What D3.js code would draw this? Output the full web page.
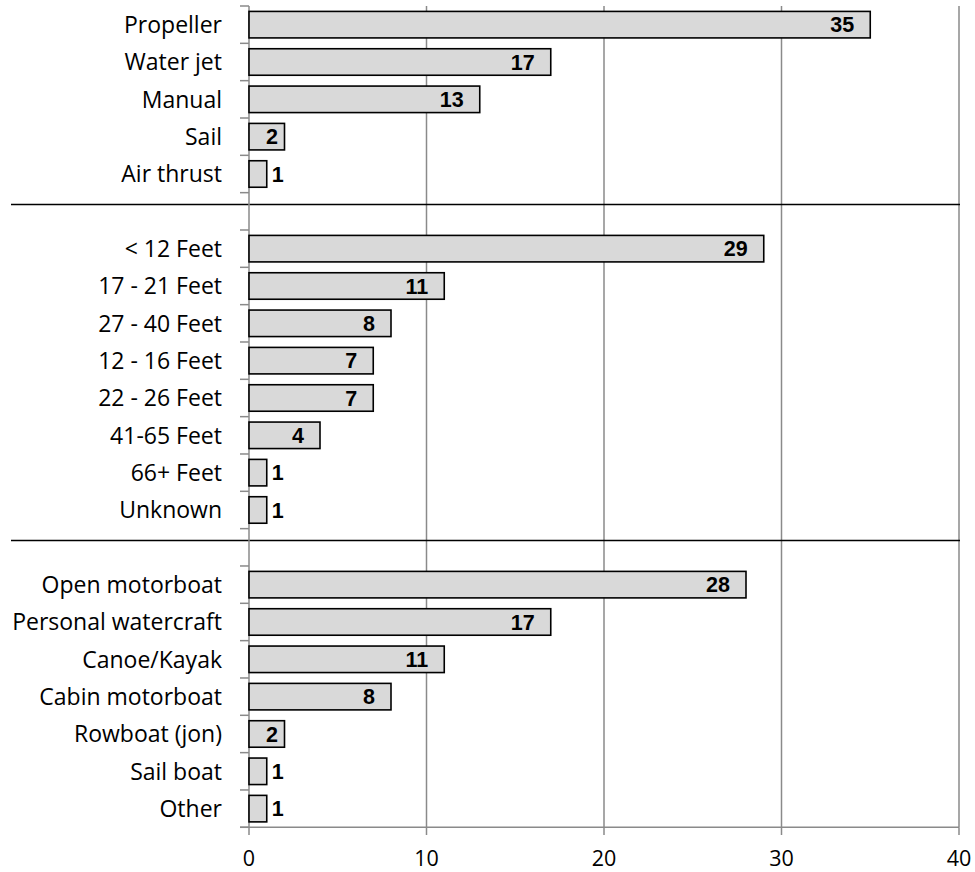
<!DOCTYPE html>
<html>
<head>
<meta charset="utf-8">
<script src="https://cdn.jsdelivr.net/npm/d3@7"></script>
<style>
  html, body { margin: 0; padding: 0; background: #fff; }
  svg { display: block; }
</style>
</head>
<body>
<script>
// ---- Data ----
const propulsionTypes = ["Propeller", "Water jet", "Manual", "Sail", "Air thrust"];
const propulsionCounts = [35, 17, 13, 2, 1];

const boatLengths = ["< 12 Feet", "17 - 21 Feet", "27 - 40 Feet", "12 - 16 Feet", "22 - 26 Feet", "41-65 Feet", "66+ Feet", "Unknown"];
const lengthCounts = [29, 11, 8, 7, 7, 4, 1, 1];

const boatTypes = ["Open motorboat", "Personal watercraft", "Canoe/Kayak", "Cabin motorboat", "Rowboat (jon)", "Sail boat", "Other"];
const boatTypeCounts = [28, 17, 11, 8, 2, 1, 1];

const xTicks = [0, 10, 20, 30, 40];

// ---- Build rows (with blank separator rows between groups) ----
const groups = [
  { names: propulsionTypes, values: propulsionCounts },
  { names: boatLengths, values: lengthCounts },
  { names: boatTypes, values: boatTypeCounts }
];
const rows = [];
const separators = [];
groups.forEach((g, gi) => {
  if (gi > 0) {
    const id = "sep" + gi;
    rows.push({ id, label: "", value: null });
    separators.push(id);
  }
  g.names.forEach((n, i) => rows.push({ id: "g" + gi + "_" + i, label: n, value: g.values[i] }));
});

// ---- Layout ----
const W = 975, H = 872;
const svg = d3.select("body").append("svg").attr("width", W).attr("height", H);

const x = d3.scaleLinear().domain([0, 40]).range([249, 959]);
const ySlot = d3.scaleBand().domain(rows.map(r => r.id)).range([6, 827.3]).padding(0);
const y = d3.scaleBand().domain(rows.map(r => r.id)).range([6, 827.3]).paddingInner(0.29).paddingOuter(0.145);

const grey = "#8a8a8a";

// gridlines
svg.append("g").selectAll("line").data(xTicks.filter(t => t > 0)).join("line")
  .attr("x1", d => x(d)).attr("x2", d => x(d))
  .attr("y1", 6).attr("y2", 827.3)
  .attr("stroke", grey).attr("stroke-width", 1.5);

// separators
svg.append("g").selectAll("line").data(separators).join("line")
  .attr("x1", 11).attr("x2", 960)
  .attr("y1", d => ySlot(d) + ySlot.step() * 0.32)
  .attr("y2", d => ySlot(d) + ySlot.step() * 0.32)
  .attr("stroke", "#000").attr("stroke-width", 1.5);

// left axis line & ticks
svg.append("line").attr("x1", x(0)).attr("x2", x(0)).attr("y1", 6).attr("y2", 827.3)
  .attr("stroke", grey).attr("stroke-width", 1.5);
const tickYs = rows.map(r => ySlot(r.id)).concat([ySlot(rows[rows.length - 1].id) + ySlot.step()]);
svg.append("g").selectAll("line").data(tickYs).join("line")
  .attr("x1", x(0) - 9).attr("x2", x(0))
  .attr("y1", d => d).attr("y2", d => d)
  .attr("stroke", grey).attr("stroke-width", 1.5);

// bars
const dataRows = rows.filter(r => r.value !== null);
svg.append("g").selectAll("rect").data(dataRows).join("rect")
  .attr("x", x(0))
  .attr("y", d => y(d.id))
  .attr("width", d => x(d.value) - x(0))
  .attr("height", y.bandwidth())
  .attr("fill", "#d9d9d9")
  .attr("stroke", "#000").attr("stroke-width", 1.6);

// category labels
svg.append("g").selectAll("text").data(dataRows).join("text")
  .attr("x", 222)
  .attr("y", d => y(d.id) + y.bandwidth() / 2)
  .attr("dy", "0.36em")
  .attr("text-anchor", "end")
  .attr("font-family", "'Open Sans', sans-serif")
  .attr("font-size", 23)
  .attr("fill", "#000")
  .text(d => d.label);

// value labels
svg.append("g").selectAll("text").data(dataRows).join("text")
  .each(function (d) {
    const w = x(d.value) - x(0);
    const sel = d3.select(this);
    if (w > 50) {
      sel.attr("x", x(d.value) - 16).attr("text-anchor", "end");
    } else if (w > 30) {
      sel.attr("x", x(d.value) - 6.5).attr("text-anchor", "end");
    } else {
      sel.attr("x", x(d.value) + 5).attr("text-anchor", "start");
    }
  })
  .attr("y", d => y(d.id) + y.bandwidth() / 2)
  .attr("dy", "0.36em")
  .attr("font-family", "'Liberation Sans', Arial, sans-serif")
  .attr("font-weight", "bold")
  .attr("font-size", 21.5)
  .attr("fill", "#000")
  .text(d => d.value);

// bottom axis
svg.append("line").attr("x1", x(0) - 9).attr("x2", x(40)).attr("y1", 827.3).attr("y2", 827.3)
  .attr("stroke", grey).attr("stroke-width", 1.5);
svg.append("g").selectAll("line").data(xTicks).join("line")
  .attr("x1", d => x(d)).attr("x2", d => x(d))
  .attr("y1", 827.3).attr("y2", 835)
  .attr("stroke", grey).attr("stroke-width", 1.5);
svg.append("g").selectAll("text").data(xTicks).join("text")
  .attr("x", d => x(d))
  .attr("y", 866)
  .attr("text-anchor", "middle")
  .attr("font-family", "'Open Sans', sans-serif")
  .attr("font-size", 21.5)
  .attr("fill", "#000")
  .text(d => d);
</script>
</body>
</html>
